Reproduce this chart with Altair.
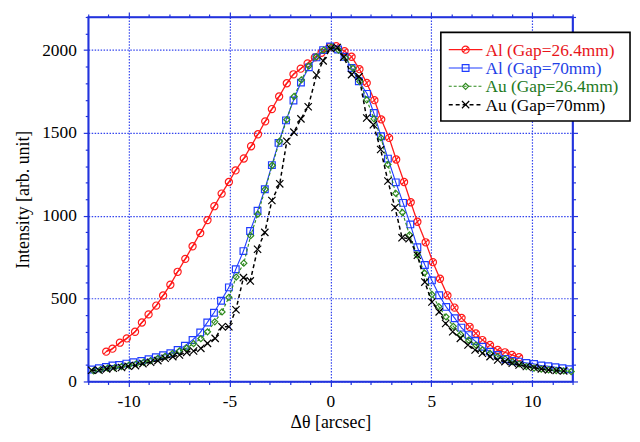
import altair as alt
import pandas as pd

# ---------------- data ----------------
series_names = ["Al (Gap=26.4mm)", "Al (Gap=70mm)", "Au (Gap=26.4mm)", "Au (Gap=70mm)"]

x_red = [-11.11, -10.80, -10.43, -10.09, -9.68, -9.34, -9.01, -8.63, -8.29, -7.93,
         -7.57, -7.19, -6.83, -6.45, -6.09, -5.75, -5.39, -5.03, -4.70, -4.29,
         -3.93, -3.59, -3.23, -2.90, -2.54, -2.16, -1.83, -1.47, -1.13, -0.77,
         -0.44, -0.05, 0.29, 0.70, 1.05, 1.44, 1.80, 2.18, 2.52, 2.91,
         3.26, 3.65, 3.98, 4.31, 4.72, 5.08, 5.43, 5.80, 6.15, 6.50,
         6.90, 7.21, 7.53, 7.91, 8.29, 8.65, 9.00, 9.35]
y_red = [180, 198, 234, 260, 300, 356, 405, 458, 519, 584,
         662, 740, 816, 896, 974, 1058, 1134, 1204, 1274, 1346,
         1420, 1492, 1570, 1644, 1720, 1800, 1854, 1888, 1920, 1956,
         1984, 2018, 2024, 1994, 1960, 1885, 1802, 1698, 1582, 1470,
         1340, 1204, 1082, 964, 840, 720, 620, 520, 446, 384,
         330, 290, 250, 220, 190, 176, 160, 146]

x_blue = [-11.83, -11.47, -11.12, -10.80, -10.47, -10.11, -9.77, -9.37, -9.01, -8.65,
          -8.29, -7.93, -7.57, -7.21, -6.83, -6.45, -6.10, -5.77, -5.42, -5.03,
          -4.69, -4.31, -3.98, -3.61, -3.25, -2.90, -2.57, -2.20, -1.83, -1.46,
          -1.07, -0.69, -0.36, -0.02, 0.38, 0.70, 1.05, 1.41, 1.82, 2.15,
          2.51, 2.85, 3.24, 3.60, 3.96, 4.31, 4.68, 5.03, 5.39, 5.74,
          6.16, 6.49, 6.85, 7.17, 7.53, 7.91, 8.29, 8.68, 9.01, 9.34,
          9.71, 10.09, 10.45, 10.80, 11.15, 11.50, 11.84]
y_blue = [72, 80, 88, 96, 100, 108, 116, 124, 134, 146,
          158, 170, 190, 216, 250, 296, 356, 415, 487, 568,
          677, 787, 908, 1030, 1160, 1306, 1440, 1576, 1696, 1804,
          1896, 1956, 2000, 2022, 2004, 1960, 1892, 1812, 1736, 1620,
          1480, 1345, 1202, 1078, 948, 810, 703, 610, 520, 450,
          382, 325, 280, 244, 210, 180, 160, 136, 124, 120,
          112, 106, 96, 92, 86, 80, 74]

x_green = [-11.74, -11.39, -11.04, -10.68, -10.35, -9.98, -9.62, -9.25, -8.91, -8.55,
           -8.19, -7.83, -7.48, -7.12, -6.78, -6.42, -6.09, -5.73, -5.37, -5.03,
           -4.67, -4.29, -3.95, -3.60, -3.23, -2.88, -2.52, -2.16, -1.80, -1.44,
           -1.07, -0.70, -0.33, 0.04, 0.40, 0.76, 1.12, 1.46, 1.80, 2.16,
           2.51, 2.85, 3.24, 3.57, 3.92, 4.31, 4.66, 5.03, 5.37, 5.73,
           6.09, 6.45, 6.85, 7.21, 7.53, 7.91, 8.29, 8.65, 9.01, 9.35,
           9.71, 10.09, 10.45, 10.81, 11.19, 11.56, 11.93]
y_green = [64, 72, 80, 84, 90, 98, 106, 116, 126, 140,
           152, 168, 184, 202, 228, 258, 300, 360, 420, 508,
           630, 714, 880, 1010, 1160, 1305, 1450, 1580, 1720, 1820,
           1904, 1960, 2000, 2020, 2000, 1952, 1890, 1810, 1700, 1585,
           1470, 1310, 1135, 1020, 885, 762, 655, 525, 452, 390,
           333, 284, 250, 220, 190, 170, 150, 136, 120, 106,
           90, 80, 74, 70, 66, 64, 60]

x_black = [-11.83, -11.47, -11.09, -10.76, -10.35, -10.02, -9.66, -9.29, -8.91, -8.55,
           -8.19, -7.81, -7.48, -7.12, -6.78, -6.42, -6.09, -5.71, -5.37, -5.03,
           -4.68, -4.31, -3.97, -3.61, -3.25, -2.90, -2.51, -2.16, -1.81, -1.46,
           -1.10, -0.69, -0.36, 0.00, 0.34, 0.66, 1.05, 1.42, 1.80, 2.13,
           2.49, 2.85, 3.20, 3.55, 3.90, 4.31, 4.68, 5.03, 5.39, 5.71,
           6.06, 6.44, 6.82, 7.17, 7.53, 7.91, 8.29, 8.65, 9.01, 9.35,
           9.71, 10.09, 10.45, 10.81, 11.19, 11.56]
y_black = [68, 68, 76, 80, 84, 92, 96, 108, 116, 126,
           140, 150, 160, 176, 184, 200, 230, 260, 330, 330,
           433, 627, 607, 798, 900, 1092, 1193, 1450, 1505, 1585,
           1658, 1850, 1935, 2010, 2016, 1958, 1852, 1840, 1590, 1550,
           1400, 1210, 1050, 868, 862, 762, 600, 480, 420, 350,
           300, 260, 220, 190, 170, 150, 130, 120, 110, 100,
           90, 84, 76, 70, 66, 64]

xs_all = [x_red, x_blue, x_green, x_black]
ys_all = [y_red, y_blue, y_green, y_black]

rows = []
for name, xs, ys in zip(series_names, xs_all, ys_all):
    assert len(xs) == len(ys), name
    for i, (a, b) in enumerate(zip(xs, ys)):
        rows.append({"dtheta": a, "intensity": b, "series": name, "idx": i})
df = pd.DataFrame(rows)

# ---------------- styles ----------------
line_colors = ["#ff1a1a", "#1f3cff", "#2e8a1e", "#000000"]
text_colors = ["#e8141a", "#1f3fe6", "#1e7a1e", "#000000"]
dashes = [[1, 0], [1, 0], [3, 2], [4, 3]]
line_widths = [1.3, 1.1, 1.1, 1.5]
circle_slash = "M-1,0A1,1,0,1,1,1,0A1,1,0,1,1,-1,0ZM-0.7,0.7L0.7,-0.7"
x_shape = "M-1,-1L1,1M-1,1L1,-1"
shapes = [circle_slash, "square", "diamond", x_shape]
sizes = [52, 46, 38, 54]

axis_color = "#2233dd"
grid_color = "#3344ee"
FONT = "Liberation Serif"

W, H = 489, 368

xscale = alt.Scale(domain=[-12, 12], nice=False, zero=False)
yscale = alt.Scale(domain=[0, 2200], nice=False, zero=False)

x_vals = list(range(-12, 13))
y_vals = list(range(0, 2201, 100))

x_major = "datum.value % 5 === 0"
y_major = "datum.value % 500 === 0"


def cond(test, a, b):
    return {"condition": {"test": test, "value": a}, "value": b}


common_axis = dict(
    domainColor=axis_color, domainWidth=1.6,
    tickColor=axis_color, tickWidth=1.2,
    labelFont=FONT, labelFontSize=17.5, labelColor="black",
    titleFont=FONT, titleFontSize=18, titleFontWeight="normal", titleColor="black",
    labelOverlap=False, labelFlush=False,
    gridColor=grid_color, gridDash=[1.5, 1.5], gridWidth=1.2,
)

x_axis = alt.Axis(
    values=x_vals, grid=True, title="Δθ [arcsec]",
    labelExpr=f"{x_major} ? '' + datum.value : ''",
    tickSize=cond(x_major, 5, 3),
    gridOpacity=cond(x_major, 1, 0),
    labelPadding=6, titlePadding=4,
    **common_axis,
)
y_axis = alt.Axis(
    values=y_vals, grid=True, title="Intensity [arb. unit]",
    labelExpr=f"{y_major} ? '' + datum.value : ''",
    tickSize=cond(y_major, 5, 3),
    gridOpacity=cond(y_major, 1, 0),
    labelPadding=7, titlePadding=9,
    **common_axis,
)

X = alt.X("dtheta:Q", scale=xscale, axis=x_axis)
Y = alt.Y("intensity:Q", scale=yscale, axis=y_axis)

base = alt.Chart(df)

series_layers = []
for i, name in enumerate(series_names):
    sub = base.transform_filter(alt.datum.series == name)
    ln = sub.mark_line(
        color=line_colors[i], strokeWidth=line_widths[i], strokeDash=dashes[i]
    ).encode(x=X, y=Y, order="idx:Q")
    pt = sub.mark_point(
        filled=False, color=line_colors[i], shape=shapes[i], size=sizes[i],
        strokeWidth=1.2, opacity=1,
    ).encode(x=X, y=Y)
    series_layers += [ln, pt]

# ---------------- legend (drawn inside the plot) ----------------
one = pd.DataFrame({"k": [0]})
legend_layers = [
    alt.Chart(one).mark_rect(fill="white", stroke="black", strokeWidth=1.6).encode(
        x=alt.value(356), x2=alt.value(547), y=alt.value(15.5), y2=alt.value(105)
    )
]
row_y = [33, 51.5, 70, 88.5]
for i, name in enumerate(series_names):
    yy = row_y[i]
    legend_layers.append(
        alt.Chart(one).mark_rule(
            color=line_colors[i], strokeWidth=line_widths[i], strokeDash=dashes[i]
        ).encode(x=alt.value(364), x2=alt.value(398), y=alt.value(yy))
    )
    legend_layers.append(
        alt.Chart(one).mark_point(
            filled=False, color=line_colors[i], shape=shapes[i], size=sizes[i],
            strokeWidth=1.2, opacity=1,
        ).encode(x=alt.value(381), y=alt.value(yy))
    )
    legend_layers.append(
        alt.Chart(one).mark_text(
            text=name, font=FONT, fontSize=17.5, color=text_colors[i],
            align="left", baseline="middle",
        ).encode(x=alt.value(401), y=alt.value(yy + 1))
    )

data_layer = alt.layer(*series_layers, *legend_layers)

# ---------------- top / right axes (ticks only) ----------------
frame_axis_common = dict(
    domainColor=axis_color, domainWidth=1.6, tickColor=axis_color, tickWidth=1.2,
    labels=False, title=None, grid=False,
)
top_axis = alt.Axis(orient="top", values=x_vals, tickSize=cond(x_major, 5, 3), **frame_axis_common)
right_axis = alt.Axis(orient="right", values=y_vals, tickSize=cond(y_major, 5, 3), **frame_axis_common)

frame_layer = base.mark_point(opacity=0).encode(
    x=alt.X("dtheta:Q", scale=xscale, axis=top_axis),
    y=alt.Y("intensity:Q", scale=yscale, axis=right_axis),
)

chart = (
    alt.layer(data_layer, frame_layer)
    .resolve_axis(x="independent", y="independent")
    .properties(
        width=W, height=H,
        autosize=alt.AutoSizeParams(type="none"),
        padding={"left": 81, "top": 7, "right": 60, "bottom": 55},
        background="white",
    )
    .configure_view(stroke=axis_color, strokeWidth=1.6)
)

chart.save("out.html", embed_options={"renderer": "svg", "actions": False})
